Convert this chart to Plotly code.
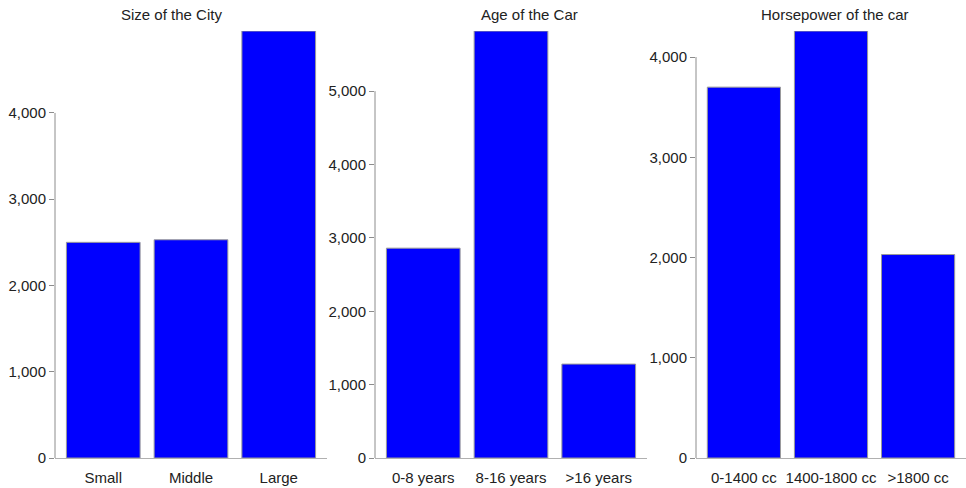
import plotly.graph_objects as go

# ---- data ----
city_categories = ["Small", "Middle", "Large"]
city_values = [2500, 2530, 4950]

age_categories = ["0-8 years", "8-16 years", ">16 years"]
age_values = [2860, 5820, 1280]

hp_categories = ["0-1400 cc", "1400-1800 cc", ">1800 cc"]
hp_values = [3700, 4260, 2030]

titles = ["Size of the City", "Age of the Car", "Horsepower of the car"]
y_ticks_city = [0, 1000, 2000, 3000, 4000]
y_ticks_age = [0, 1000, 2000, 3000, 4000, 5000]
y_ticks_hp = [0, 1000, 2000, 3000, 4000]

W, H = 966, 488
ML, MR, MT, MB = 0, 0, 31, 30
PLOT_H = H - MT - MB

panels = [
    (city_categories, city_values, y_ticks_city, (55, 327), 171),
    (age_categories, age_values, y_ticks_age, (375, 647), 529),
    (hp_categories, hp_values, y_ticks_hp, (696, 966), 835),
]

FONT = "Liberation Sans, Arial, Helvetica, sans-serif"
TEXT = "#222222"
AXIS = "#8c8c8c"

fig = go.Figure()
shapes = []
annotations = []
layout_axes = {}

for i, (cats, vals, ticks, (px0, px1), title_x) in enumerate(panels):
    n = "" if i == 0 else str(i + 1)
    fig.add_trace(go.Bar(
        x=cats, y=vals,
        xaxis="x" + n, yaxis="y" + n,
        marker=dict(color="#0000ff", line=dict(color="#9a9a9a", width=1)),
        showlegend=False,
    ))
    layout_axes["xaxis" + n] = dict(
        domain=[px0 / W, px1 / W],
        anchor="y" + n,
        range=[-0.55, len(cats) - 0.45],
        showline=True, linecolor="#b0b0b0", linewidth=1,
        showgrid=False, zeroline=False,
        ticks="outside", ticklen=6, tickcolor="rgba(0,0,0,0)",
        tickfont=dict(family=FONT, size=15, color=TEXT),
        fixedrange=True,
    )
    layout_axes["yaxis" + n] = dict(
        domain=[0, 1],
        anchor="x" + n,
        range=[0, max(vals)],
        tickvals=ticks,
        tickformat=",d",
        showline=False, showgrid=False, zeroline=False,
        ticks="outside", ticklen=5, tickcolor=AXIS, tickwidth=1,
        tickfont=dict(family=FONT, size=15, color=TEXT),
        fixedrange=True,
    )
    # y-axis domain line spanning only the tick extent
    shapes.append(dict(
        type="line", xref="x" + n + " domain", yref="y" + n,
        x0=0, x1=0, y0=ticks[0], y1=ticks[-1],
        line=dict(color=AXIS, width=1),
    ))
    annotations.append(dict(
        text=titles[i], xref="paper", yref="paper",
        x=title_x / W, y=1 + (MT - 15) / PLOT_H,
        xanchor="center", yanchor="middle", showarrow=False,
        font=dict(family=FONT, size=15, color=TEXT),
    ))

fig.update_layout(
    width=W, height=H,
    margin=dict(l=ML, r=MR, t=MT, b=MB),
    paper_bgcolor="white", plot_bgcolor="white",
    bargap=0.16,
    separators=".,",
    hovermode=False,
    shapes=shapes,
    annotations=annotations,
    **layout_axes,
)

fig.write_html(
    "out.html",
    config={"displayModeBar": False, "staticPlot": True},
    post_script="document.body.style.margin='0';document.body.style.overflow='hidden';",
)
